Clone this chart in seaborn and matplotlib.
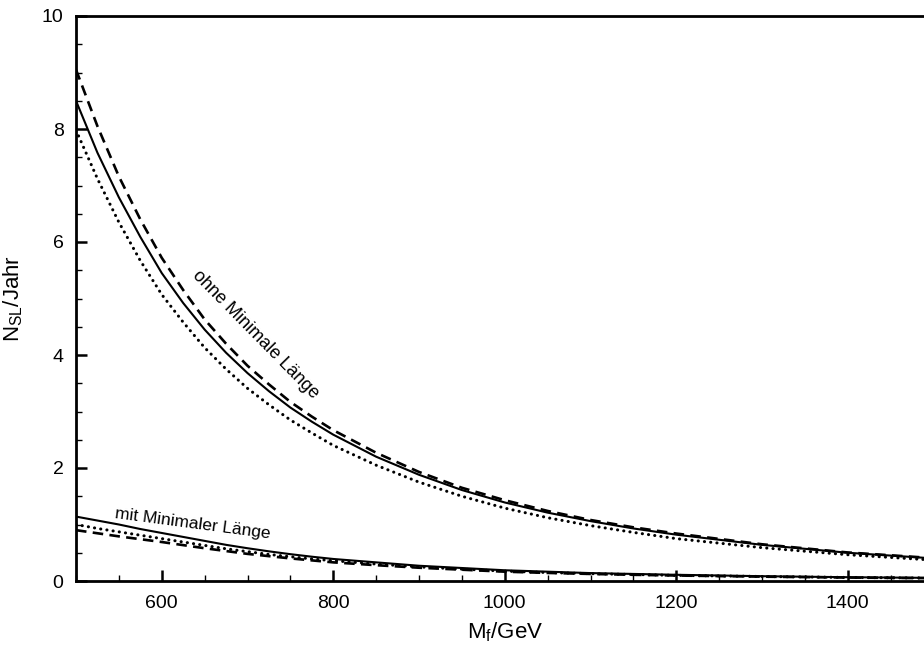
import matplotlib
matplotlib.use("Agg")
import matplotlib.pyplot as plt
import seaborn as sns
import pandas as pd
from matplotlib.ticker import MultipleLocator, FixedLocator

# ---- data ----
mass = [500, 525, 550, 575, 600, 625, 650, 675, 700, 725, 750, 775, 800, 850, 900, 950,
        1000, 1050, 1100, 1150, 1200, 1300, 1400, 1500]

ohne_solid  = [8.50, 7.58, 6.79, 6.09, 5.45, 4.92, 4.45, 4.04, 3.68, 3.36, 3.07, 2.82, 2.59, 2.20, 1.88, 1.61,
               1.39, 1.21, 1.06, 0.93, 0.82, 0.64, 0.50, 0.40]
ohne_dashed = [9.05, 8.05, 7.16, 6.40, 5.72, 5.15, 4.63, 4.20, 3.81, 3.48, 3.17, 2.91, 2.67, 2.27, 1.93, 1.65,
               1.43, 1.24, 1.08, 0.95, 0.84, 0.65, 0.505, 0.405]
ohne_dotted = [7.98, 7.12, 6.35, 5.67, 5.07, 4.58, 4.13, 3.75, 3.41, 3.12, 2.85, 2.62, 2.40, 2.05, 1.75, 1.50,
               1.29, 1.12, 0.98, 0.86, 0.75, 0.59, 0.465, 0.37]

mit_solid  = [1.14, 1.07, 1.00, 0.92, 0.85, 0.78, 0.71, 0.64, 0.58, 0.525, 0.475, 0.43, 0.39, 0.33, 0.27, 0.23,
              0.19, 0.165, 0.14, 0.125, 0.11, 0.085, 0.067, 0.055]
mit_dotted = [1.00, 0.93, 0.87, 0.81, 0.75, 0.69, 0.63, 0.57, 0.52, 0.47, 0.43, 0.39, 0.36, 0.30, 0.25, 0.21,
              0.175, 0.15, 0.13, 0.115, 0.10, 0.08, 0.063, 0.052]
mit_dashed = [0.90, 0.845, 0.79, 0.74, 0.69, 0.635, 0.58, 0.53, 0.48, 0.44, 0.40, 0.365, 0.33, 0.28, 0.235, 0.20,
              0.165, 0.143, 0.125, 0.11, 0.097, 0.077, 0.061, 0.05]

x_major = [600, 800, 1000, 1200, 1400]
y_major = [0, 2, 4, 6, 8, 10]

label_ohne = "ohne Minimale Länge"
label_mit = "mit Minimaler Länge"
xlabel = r"M$_\mathregular{f}$/GeV"
ylabel = r"N$_\mathregular{SL}$/Jahr"

# ---- styling ----
sns.set_style("ticks")
plt.rcParams['font.family'] = ['Liberation Sans', 'DejaVu Sans']
plt.rcParams['mathtext.fontset'] = 'custom'
plt.rcParams['mathtext.rm'] = 'Liberation Sans'
plt.rcParams['text.color'] = 'black'
plt.rcParams['axes.labelcolor'] = 'black'
plt.rcParams['xtick.color'] = 'black'
plt.rcParams['ytick.color'] = 'black'

fig = plt.figure(figsize=(9.24, 6.53), dpi=100)
W, H = 924, 653
left, right_px, top, bottom = 76, 933.5, 16, 581
ax = fig.add_axes([left / W, (H - bottom) / H, (right_px - left) / W, (bottom - top) / H])

series = [
    (ohne_solid, "solid"), (ohne_dashed, "dashed"), (ohne_dotted, "dotted"),
    (mit_solid, "solid"), (mit_dashed, "dashed"), (mit_dotted, "dotted"),
]
for vals, style in series:
    df = pd.DataFrame({"M": mass, "N": vals})
    if style == "solid":
        sns.lineplot(data=df, x="M", y="N", ax=ax, color="black", linewidth=1.5)
    elif style == "dashed":
        ln = sns.lineplot(data=df, x="M", y="N", ax=ax, color="black", linewidth=1.9).lines[-1]
        ln.set_dashes([4, 2.4])
    else:
        ln = sns.lineplot(data=df, x="M", y="N", ax=ax, color="black", linewidth=2.2).lines[-1]
        ln.set_dashes([0.05, 2.0])
        ln.set_dash_capstyle("round")

ax.set_xlim(500, 1500)
ax.set_ylim(0, 10)
ax.xaxis.set_major_locator(FixedLocator(x_major))
ax.xaxis.set_minor_locator(MultipleLocator(50))
ax.yaxis.set_major_locator(FixedLocator(y_major))
ax.yaxis.set_minor_locator(MultipleLocator(0.5))

for s in ax.spines.values():
    s.set_linewidth(2.0)
    s.set_color("black")
ax.tick_params(which="major", direction="in", length=8, width=1.8, labelsize=14,
               colors="black", labelcolor="black")
ax.tick_params(axis="x", which="major", pad=10)
ax.tick_params(axis="y", which="major", pad=9)
ax.tick_params(which="minor", direction="in", length=4.5, width=1.0, colors="black")
ax.tick_params(top=False, right=False, which="both")

ax.set_xlabel(xlabel, fontsize=16, labelpad=6, color="black")
ax.set_ylabel(ylabel, fontsize=16, labelpad=12, color="black")

ax.text(709, 4.37, label_ohne, rotation=-45.5, fontsize=13, ha="center", va="center",
        rotation_mode="anchor", color="black")
ax.text(636, 1.02, label_mit, rotation=-7.5, fontsize=12.5, ha="center", va="center",
        rotation_mode="anchor", color="black")

ax.grid(False)
fig.savefig("out.png", dpi=100)
